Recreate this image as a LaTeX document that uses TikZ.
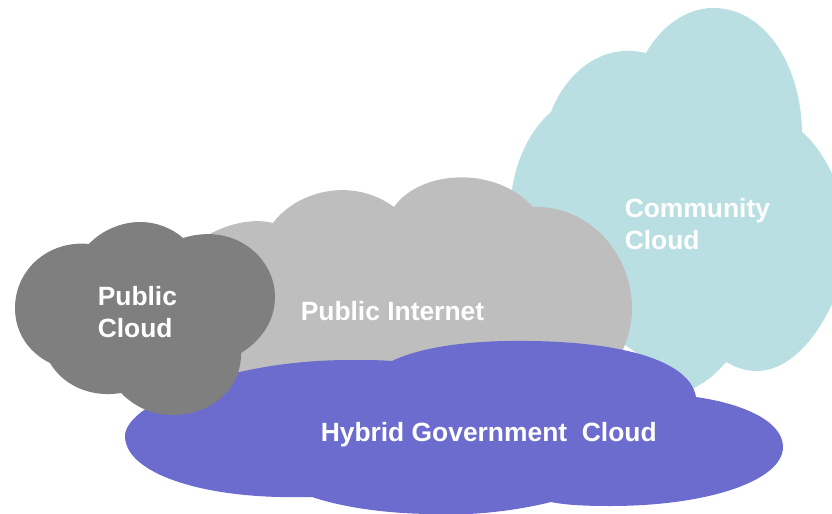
\documentclass[tikz,border=0pt]{standalone}
\usepackage{fontspec}
\setmainfont{Liberation Sans}
\definecolor{commc}{HTML}{B9DFE2}
\definecolor{inetc}{HTML}{BEBEBE}
\definecolor{pubc}{HTML}{7F7F7F}
\definecolor{hybc}{HTML}{6C6CCF}
\tikzset{cloudlabel/.style={text=white,font=\bfseries\fontsize{19.8pt}{24pt}\selectfont,inner sep=0pt,anchor=base west}}
\begin{document}
\begin{tikzpicture}[x=0.75pt,y=-0.75pt]
\useasboundingbox (0,0) rectangle (832,514);
\clip (0,0) rectangle (832,514);
% community
\fill[commc] (512,190) .. controls (516,160) and (530,130) .. (551,112)
 .. controls (565,75) and (600,42) .. (646,53)
 .. controls (660,28) and (685,8) .. (713,8)
 .. controls (765,8) and (801,65) .. (802,132)
 .. controls (815,143) and (825,158) .. (836,182)
 -- (836,295) .. controls (815,345) and (785,371) .. (757,371)
 .. controls (745,371) and (735,367) .. (726,362)
 .. controls (715,375) and (705,383) .. (690,390)
 -- (560,300) -- cycle;
% internet
\fill[inetc] (200,240) .. controls (220,226) and (250,217) .. (273,223)
 .. controls (295,193) and (350,175) .. (394,207)
 .. controls (420,170) and (495,165) .. (533,207)
 .. controls (590,205) and (632,255) .. (632,308)
 .. controls (632,325) and (628,338) .. (622,352)
 -- (230,385) -- cycle;
% hybrid
\fill[hybc] (125,436) .. controls (125,405) and (225,360) .. (350,360)
 .. controls (365,360) and (380,360) .. (392,361)
 .. controls (425,345) and (480,340) .. (530,341)
 .. controls (620,342) and (690,360) .. (696,397)
 .. controls (745,404) and (783,422) .. (783,447)
 .. controls (783,480) and (710,506) .. (610,506)
 .. controls (585,506) and (565,505) .. (551,502)
 .. controls (515,511) and (470,516) .. (435,514)
 .. controls (390,514) and (345,508) .. (312,497)
 .. controls (300,497) and (290,497) .. (280,497)
 .. controls (190,495) and (125,470) .. (125,436) -- cycle;
% public cloud
\fill[pubc] (50,363) .. controls (28,352) and (15,332) .. (15,308)
 .. controls (15,270) and (48,240) .. (89,244)
 .. controls (102,230) and (122,222) .. (140,222)
 .. controls (156,222) and (172,228) .. (183,238)
 .. controls (235,222) and (275,258) .. (275,297)
 .. controls (275,320) and (262,340) .. (241,353)
 .. controls (242,385) and (215,415) .. (172,415)
 .. controls (150,415) and (133,405) .. (121,393)
 .. controls (90,398) and (63,385) .. (50,363) -- cycle;
\node[cloudlabel] (comm) at (624.5,217) {Community};
\node[cloudlabel] (comm2) at (624.5,249) {Cloud};
\node[cloudlabel] (inet) at (300.5,320) {Public Internet};
\node[cloudlabel] (hyb) at (320.5,441) {Hybrid Government\ \ Cloud};
\node[cloudlabel] (pub) at (97.5,305) {Public};
\node[cloudlabel] (pub2) at (97.5,337) {Cloud};
\end{tikzpicture}
\end{document}
